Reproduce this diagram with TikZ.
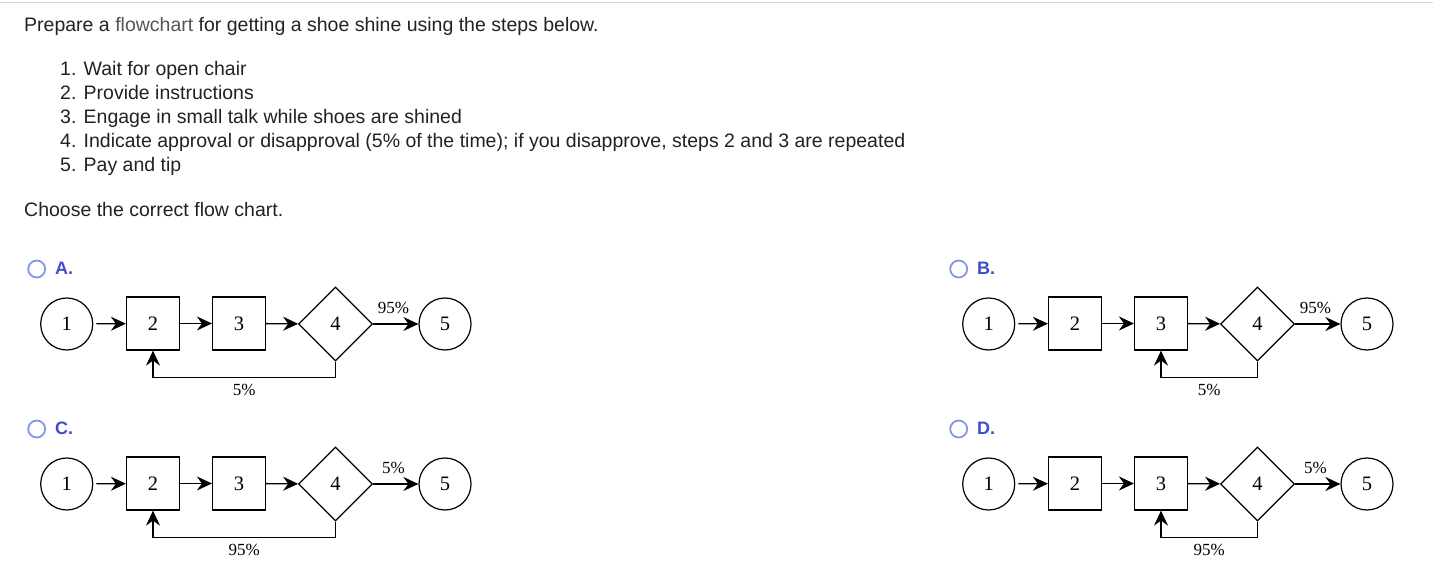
\documentclass[tikz,border=0pt]{standalone}
\usepackage{fontspec}
\setmainfont{Liberation Sans}
\newfontfamily\diagfont{Liberation Serif}
\newfontfamily\optfont{Liberation Sans Bold}
\usetikzlibrary{shapes.geometric,arrows.meta}
\definecolor{txt}{HTML}{222222}
\definecolor{linkgray}{HTML}{555555}
\definecolor{optblue}{HTML}{3B4FC8}
\definecolor{radioblue}{HTML}{8497E6}
\definecolor{rule}{HTML}{D6D6D6}
\tikzset{
  qtext/.style={anchor=base west, inner sep=0pt, text=txt, font=\fontsize{19.5}{24}\selectfont},
  optlabel/.style={anchor=west, inner sep=0pt, text=optblue, font=\optfont\fontsize{18}{20}\selectfont},
  radio/.style={circle, draw=radioblue, line width=1.8pt, minimum size=17pt, inner sep=0pt},
  circ/.style={circle, draw, line width=1.2pt, minimum size=52pt, inner sep=0pt, font=\diagfont\fontsize{20.5}{22}\selectfont},
  sq/.style={rectangle, draw, line width=1.2pt, minimum size=53pt, inner sep=0pt, font=\diagfont\fontsize{20.5}{22}\selectfont},
  dia/.style={diamond, draw, line width=1.2pt, minimum width=74pt, minimum height=74pt, inner sep=0pt, font=\diagfont\fontsize{20.5}{22}\selectfont},
  arr/.style={line width=1.3pt, -{Stealth[length=15pt, width=14pt, inset=5pt]}},
  plabel/.style={inner sep=0pt, font=\diagfont\fontsize{17}{18}\selectfont},
}
\newcommand\flowdiag[6]{%
  \begin{scope}[shift={#2}]
    \node[radio] (#1r) at (36.7,269) {};
    \node[optlabel] (#1l) at (55,268) {#6.};
    \node[circ] (#1n1) at (66.7,324) {1};
    \node[sq]   (#1n2) at (153,323.5) {2};
    \node[sq]   (#1n3) at (239,323.5) {3};
    \node[dia]  (#1n4) at (335.5,324) {4};
    \node[circ] (#1n5) at (445,324) {5};
    \draw[arr, shorten <=3pt] (#1n1) -- (#1n2);
    \draw[arr] (#1n2) -- (#1n3);
    \draw[arr] (#1n3) -- (#1n4);
    \draw[arr] (#1n4) -- node[plabel, pos=0.45, yshift=16pt] {#4} (#1n5);
    \draw[arr] (#1n4.south) -- ++(0,15.7) -| node[plabel, pos=0.25, yshift=-13pt] {#5} (#1n#3.south);
  \end{scope}}
\begin{document}
\begin{tikzpicture}[x=1pt,y=-1pt]
\useasboundingbox[fill=white] (0,0) rectangle (1433,569);
\draw[rule, line width=1pt] (0,3) coordinate (r0) -- (1433,3) coordinate (r1);
\node[qtext] (title) at (24,32) {Prepare a \textcolor{linkgray}{flowchart} for getting a shoe shine using the steps below.};
\node[qtext] (s1) at (60,76) {1. Wait for open chair};
\node[qtext] (s2) at (60,100) {2. Provide instructions};
\node[qtext] (s3) at (60,124) {3. Engage in small talk while shoes are shined};
\node[qtext] (s4) at (60,148) {4. Indicate approval or disapproval (5\% of the time); if you disapprove, steps 2 and 3 are repeated};
\node[qtext] (s5) at (60,172) {5. Pay and tip};
\node[qtext] (choose) at (24,217) {Choose the correct flow chart.};
\flowdiag{a}{(0,0)}{2}{95\%}{5\%}{A}
\flowdiag{b}{(922,0)}{3}{95\%}{5\%}{B}
\flowdiag{c}{(0,160)}{2}{5\%}{95\%}{C}
\flowdiag{d}{(922,160)}{3}{5\%}{95\%}{D}
\end{tikzpicture}
\end{document}
